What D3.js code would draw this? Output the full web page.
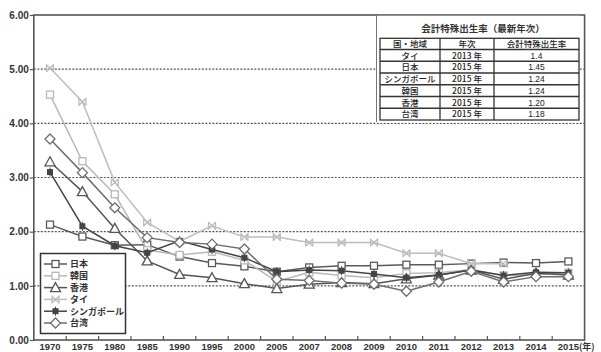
<!DOCTYPE html>
<html>
<head>
<meta charset="utf-8">
<script src="https://cdn.jsdelivr.net/npm/d3@7"></script>
<style>
body { margin: 0; background: #fff; }
text { font-family: "Liberation Sans", "Noto Sans CJK JP", sans-serif; font-weight: bold; fill: #333; }
.jp { font-family: "Noto Sans CJK JP", sans-serif; }
</style>
</head>
<body>
<svg id="chart" width="601" height="352"></svg>
<script>
// years on x axis
var years = ["1970","1975","1980","1985","1990","1995","2000","2005","2007","2008","2009","2010","2011","2012","2013","2014","2015"];
var yTicks = [0, 1, 2, 3, 4, 5, 6];

// total fertility rate per region
var japan     = [2.13,1.91,1.75,1.76,1.54,1.42,1.36,1.26,1.34,1.37,1.37,1.39,1.39,1.41,1.43,1.42,1.45];
var korea     = [4.53,3.30,2.69,1.66,1.57,1.63,1.47,1.08,1.25,1.19,1.15,1.23,1.24,1.30,1.19,1.21,1.24];
var hongkong  = [3.29,2.74,2.06,1.46,1.21,1.15,1.04,0.95,1.03,1.06,1.04,1.13,1.20,1.29,1.12,1.23,1.20];
var thailand  = [5.02,4.40,2.91,2.17,1.82,2.11,1.90,1.90,1.80,1.80,1.80,1.60,1.60,1.41,1.41,null,null];
var singapore = [3.10,2.10,1.74,1.61,1.83,1.67,1.52,1.26,1.29,1.28,1.22,1.15,1.20,1.29,1.19,1.25,1.24];
var taiwan    = [3.71,3.09,2.44,1.89,1.80,1.77,1.68,1.12,1.10,1.05,1.03,0.90,1.07,1.27,1.07,1.17,1.17];

var seriesNames = ["日本","韓国","香港","タイ","シンガポール","台湾"];

// inset table (latest year)
var tableTitle = "会計特殊出生率（最新年次）";
var tableHeader = ["国・地域","年次","会計特殊出生率"];
var tableRegions = ["タイ","日本","シンガポール","韓国","香港","台湾"];
var tableYears = ["2013 年","2015 年","2015 年","2015 年","2015 年","2015 年"];
var tableRates = ["1.4","1.45","1.24","1.24","1.20","1.18"];

var series = [
    {name: seriesNames[0], values: japan,     color: "#5a5a5a", marker: "square"},
    {name: seriesNames[1], values: korea,     color: "#b8b8b8", marker: "square"},
    {name: seriesNames[2], values: hongkong,  color: "#555555", marker: "triangle"},
    {name: seriesNames[3], values: thailand,  color: "#bdbdbd", marker: "cross"},
    {name: seriesNames[4], values: singapore, color: "#444444", marker: "filled"},
    {name: seriesNames[5], values: taiwan,    color: "#6e6e6e", marker: "diamond"}
];

var svg = d3.select("#chart");
var plotLeft = 33.8, plotRight = 584.6, plotTop = 15, plotBottom = 340;

var x = d3.scaleBand().domain(years).range([plotLeft, plotRight]);
var y = d3.scaleLinear().domain([0, 6]).range([plotBottom, plotTop]);
function cx(i) { return x(years[i]) + x.bandwidth() / 2; }

// gridlines
svg.append("g").selectAll("line")
    .data(yTicks.filter(function(d){ return d > 0 && d < 6; }))
    .enter().append("line")
    .attr("x1", plotLeft).attr("x2", plotRight)
    .attr("y1", function(d){ return y(d); })
    .attr("y2", function(d){ return y(d); })
    .attr("stroke", "#555").attr("stroke-width", 1.2)
    .attr("stroke-dasharray", "2,1.5");

// frame
svg.append("rect")
    .attr("x", plotLeft).attr("y", plotTop)
    .attr("width", plotRight - plotLeft).attr("height", plotBottom - plotTop)
    .attr("fill", "none").attr("stroke", "#555").attr("stroke-width", 1.6);

// y axis
var yAxis = svg.append("g")
    .attr("transform", "translate(" + plotLeft + ",0)")
    .call(d3.axisLeft(y).tickValues(yTicks).tickSize(4).tickFormat(d3.format(".2f")));
yAxis.select(".domain").remove();
yAxis.selectAll("line").attr("stroke", "#555").attr("stroke-width", 1.2);
yAxis.selectAll("text").attr("x", -5).style("font-size", "10px").attr("fill", "#333");

// x axis: ticks between categories pointing up, labels at centers
svg.append("g").selectAll("line")
    .data(years.slice(1))
    .enter().append("line")
    .attr("x1", function(d){ return x(d); })
    .attr("x2", function(d){ return x(d); })
    .attr("y1", plotBottom).attr("y2", plotBottom - 4)
    .attr("stroke", "#555").attr("stroke-width", 1.2);

svg.append("g").selectAll("text")
    .data(years)
    .enter().append("text")
    .attr("x", function(d){ return x(d) + x.bandwidth() / 2; })
    .attr("y", 350)
    .attr("text-anchor", "middle")
    .style("font-size", "9.5px")
    .text(function(d){ return d; });
svg.append("text")
    .attr("class", "jp")
    .attr("x", cx(years.length - 1) + 10.5).attr("y", 349.5)
    .style("font-size", "9px")
    .text("(年)");

// markers
function drawMarker(g, type, color, px, py) {
    if (type === "square") {
        g.append("rect").attr("x", px - 3.5).attr("y", py - 3.5).attr("width", 7).attr("height", 7)
            .attr("fill", "#fff").attr("stroke", color).attr("stroke-width", 1.3);
    } else if (type === "triangle") {
        g.append("path").attr("d", "M" + px + "," + (py - 5) + "L" + (px + 5) + "," + (py + 4) + "L" + (px - 5) + "," + (py + 4) + "Z")
            .attr("fill", "#fff").attr("stroke", color).attr("stroke-width", 1.3);
    } else if (type === "diamond") {
        g.append("path").attr("d", "M" + px + "," + (py - 5) + "L" + (px + 5) + "," + py + "L" + px + "," + (py + 5) + "L" + (px - 5) + "," + py + "Z")
            .attr("fill", "#fff").attr("stroke", color).attr("stroke-width", 1.3);
    } else if (type === "cross") {
        g.append("path").attr("d",
            "M" + (px - 3.5) + "," + (py - 3.5) + "L" + (px + 3.5) + "," + (py + 3.5) +
            "M" + (px + 3.5) + "," + (py - 3.5) + "L" + (px - 3.5) + "," + (py + 3.5) +
            "M" + (px - 3.5) + "," + (py - 4) + "L" + (px - 3.5) + "," + (py + 4) +
            "M" + (px + 3.5) + "," + (py - 4) + "L" + (px + 3.5) + "," + (py + 4))
            .attr("fill", "none").attr("stroke", color).attr("stroke-width", 1.3);
    } else if (type === "filled") {
        g.append("rect").attr("x", px - 2.5).attr("y", py - 2.5).attr("width", 5).attr("height", 5)
            .attr("fill", color).attr("stroke", color).attr("stroke-width", 1);
        g.append("line").attr("x1", px).attr("x2", px).attr("y1", py - 4.5).attr("y2", py + 4.5)
            .attr("stroke", color).attr("stroke-width", 1);
    }
}

var line = d3.line()
    .defined(function(d){ return d !== null; })
    .x(function(d, i){ return cx(i); })
    .y(function(d){ return y(d); });

series.forEach(function(s) {
    var g = svg.append("g");
    g.append("path")
        .attr("d", line(s.values))
        .attr("fill", "none")
        .attr("stroke", s.color)
        .attr("stroke-width", 1.5);
    s.values.forEach(function(v, i) {
        if (v !== null) drawMarker(g, s.marker, s.color, cx(i), y(v));
    });
});

// legend
var lg = svg.append("g");
lg.append("rect").attr("x", 40.5).attr("y", 253.5).attr("width", 85).attr("height", 80)
    .attr("fill", "#fff").attr("stroke", "#333").attr("stroke-width", 1.5);
series.forEach(function(s, i) {
    var ly = 264 + i * 11.8;
    lg.append("line").attr("x1", 44).attr("x2", 67).attr("y1", ly).attr("y2", ly)
        .attr("stroke", s.color).attr("stroke-width", 1.5);
    drawMarker(lg, s.marker, s.color, 55.5, ly);
    lg.append("text").attr("class", "jp").attr("x", 70).attr("y", ly + 3.3)
        .style("font-size", "9px").text(s.name);
});

// inset table
var tb = svg.append("g");
tb.append("rect").attr("x", 376).attr("y", plotTop + 0.8).attr("width", 204).attr("height", 107)
    .attr("fill", "#fff");
tb.append("line").attr("x1", 376.5).attr("x2", 376.5).attr("y1", plotTop).attr("y2", 122)
    .attr("stroke", "#777").attr("stroke-width", 1);
tb.append("text").attr("class", "jp").attr("x", 483).attr("y", 32)
    .attr("text-anchor", "middle").style("font-size", "9.5px").text(tableTitle);

var colX = [380, 440, 494, 579];
var rowY = [38.3, 49.5];
for (var r = 0; r < tableRegions.length; r++) rowY.push(49.5 + (r + 1) * 11.75);
var rows = [tableHeader];
tableRegions.forEach(function(d, i){ rows.push([d, tableYears[i], tableRates[i]]); });

tb.append("rect").attr("x", colX[0]).attr("y", rowY[0])
    .attr("width", colX[3] - colX[0]).attr("height", rowY[rowY.length - 1] - rowY[0])
    .attr("fill", "#fff").attr("stroke", "#333").attr("stroke-width", 1.3);
rowY.slice(1, -1).forEach(function(ry){
    tb.append("line").attr("x1", colX[0]).attr("x2", colX[3]).attr("y1", ry).attr("y2", ry)
        .attr("stroke", "#333").attr("stroke-width", 1.3);
});
colX.slice(1, -1).forEach(function(c){
    tb.append("line").attr("x1", c).attr("x2", c).attr("y1", rowY[0]).attr("y2", rowY[rowY.length - 1])
        .attr("stroke", "#333").attr("stroke-width", 1.3);
});
rows.forEach(function(row, ri) {
    var midY = (rowY[ri] + rowY[ri + 1]) / 2;
    row.forEach(function(cell, ci) {
        tb.append("text").attr("class", ci === 2 && ri > 0 ? "" : "jp")
            .attr("x", (colX[ci] + colX[ci + 1]) / 2)
            .attr("y", midY + 3.2)
            .attr("text-anchor", "middle")
            .style("font-size", "8.5px")
            .style("font-weight", "500")
            .style("fill", "#222")
            .text(cell);
    });
});
</script>
</body>
</html>
